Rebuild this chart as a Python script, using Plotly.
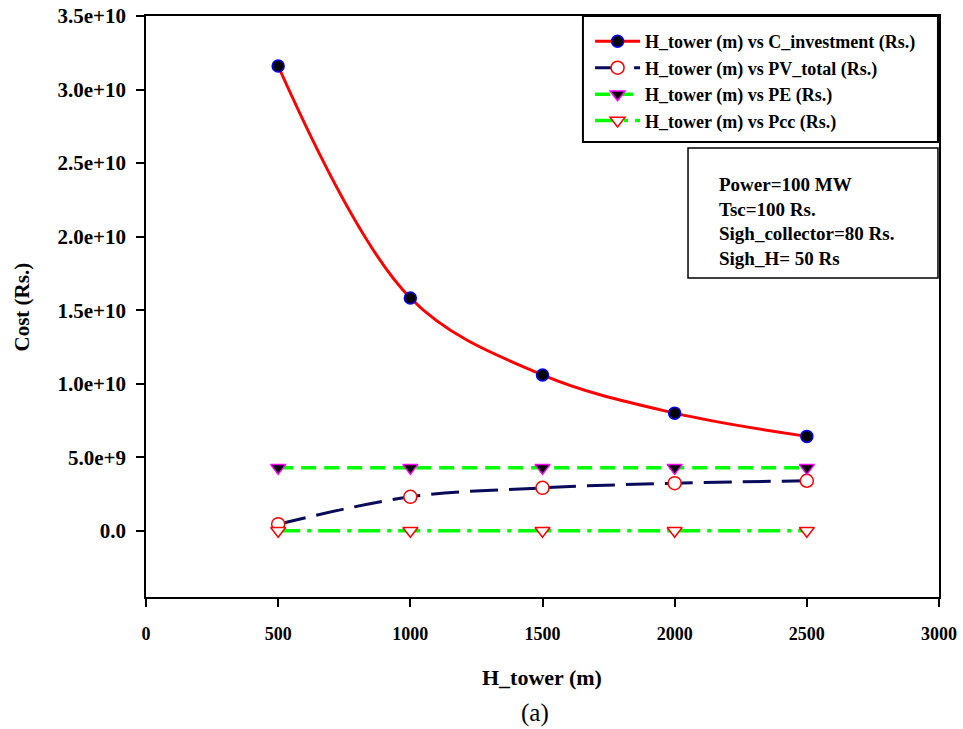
import plotly.graph_objects as go

# ---- data ----
h_tower = [500, 1000, 1500, 2000, 2500]
c_investment = [3.16e10, 1.583e10, 1.06e10, 8.0e9, 6.42e9]
pv_total = [4.5e8, 2.31e9, 2.92e9, 3.24e9, 3.40e9]
pe = [4.28e9, 4.28e9, 4.28e9, 4.28e9, 4.28e9]
pcc = [0.0, 0.0, 0.0, 0.0, 0.0]

x_tick_vals = [0, 500, 1000, 1500, 2000, 2500, 3000]
x_tick_text = ["0", "500", "1000", "1500", "2000", "2500", "3000"]
y_tick_vals = [0, 5e9, 1e10, 1.5e10, 2e10, 2.5e10, 3e10, 3.5e10]
y_tick_text = ["0.0", "5.0e+9", "1.0e+10", "1.5e+10", "2.0e+10", "2.5e+10", "3.0e+10", "3.5e+10"]

names = [
    "H_tower (m) vs C_investment (Rs.)",
    "H_tower (m) vs PV_total (Rs.)",
    "H_tower (m) vs PE (Rs.)",
    "H_tower (m) vs Pcc (Rs.)",
]
info_lines = ["Power=100 MW", "Tsc=100 Rs.", "Sigh_collector=80 Rs.", "Sigh_H= 50 Rs"]

FONT = "Liberation Serif"

fig = go.Figure()
fig.add_trace(go.Scatter(
    x=h_tower, y=c_investment, name=names[0], mode="lines+markers",
    line=dict(color="#ff0000", width=3, shape="spline", smoothing=1.0),
    marker=dict(symbol="circle", size=12, color="black", line=dict(color="#0000ff", width=1.5)),
))
fig.add_trace(go.Scatter(
    x=h_tower, y=pv_total, name=names[1], mode="lines+markers",
    line=dict(color="#0a0a5a", width=3, shape="spline", smoothing=1.0, dash="28px,11px"),
    marker=dict(symbol="circle", size=13, color="white", line=dict(color="#ff0000", width=1.5)),
))
fig.add_trace(go.Scatter(
    x=h_tower, y=pe, name=names[2], mode="lines+markers",
    line=dict(color="#00ff00", width=3.5, dash="15px,8px"),
    marker=dict(symbol="triangle-down", size=13, color="black", line=dict(color="#ff00ff", width=1.5)),
))
fig.add_trace(go.Scatter(
    x=h_tower, y=pcc, name=names[3], mode="lines+markers",
    line=dict(color="#00ff00", width=3.5, dash="22px,7px,4px,7px"),
    marker=dict(symbol="triangle-down", size=13, color="white", line=dict(color="#ff0000", width=1.5)),
))

axis_common = dict(
    showline=True, linecolor="black", linewidth=1.5, mirror=True,
    ticks="outside", ticklen=8, tickwidth=1.5, tickcolor="black",
    showgrid=False, zeroline=False, automargin=False,
)
fig.update_xaxes(range=[0, 3000], tickvals=x_tick_vals, ticktext=x_tick_text,
                 tickfont=dict(family=FONT, size=18, color="black", weight="bold"),
                 ticklabelstandoff=12, **axis_common)
fig.update_yaxes(range=[-4.5e9, 3.5e10], tickvals=y_tick_vals, ticktext=y_tick_text,
                 tickfont=dict(family=FONT, size=21, color="black", weight="bold"),
                 ticklabelstandoff=6, **axis_common)

# legend box and info box
fig.add_shape(type="rect", xref="paper", yref="paper", x0=0.551, x1=0.9987, y0=0.7831, y1=1.0,
              line=dict(color="black", width=2), fillcolor="white", layer="above")
fig.add_shape(type="rect", xref="paper", yref="paper", x0=0.6835, x1=0.9987, y0=0.549, y1=0.7728,
              line=dict(color="black", width=1.5), fillcolor="white", layer="above")

fig.add_annotation(xref="paper", yref="paper", x=0.7195, y=0.6468, xanchor="left", yanchor="middle",
                   align="left", showarrow=False, text="<br>".join(info_lines),
                   font=dict(family=FONT, size=19, color="black", weight="bold"))

# axis titles
fig.add_annotation(xref="paper", yref="paper", x=0.4994, y=-0.1377, xanchor="center", yanchor="middle",
                   showarrow=False, text="H_tower (m)",
                   font=dict(family=FONT, size=22, color="black", weight="bold"))
fig.add_annotation(xref="paper", yref="paper", x=-0.1564, y=0.5, xanchor="center", yanchor="middle",
                   showarrow=False, text="Cost (Rs.)", textangle=-90,
                   font=dict(family=FONT, size=21, color="black", weight="bold"))
fig.add_annotation(xref="paper", yref="paper", x=0.4905, y=-0.1997, xanchor="center", yanchor="middle",
                   showarrow=False, text="(a)",
                   font=dict(family=FONT, size=25, color="black"))

fig.update_layout(
    width=963, height=729,
    margin=dict(l=146, r=24, t=16, b=132),
    plot_bgcolor="white", paper_bgcolor="white",
    font=dict(family=FONT, color="black"),
    showlegend=True,
    legend=dict(x=0.56, y=0.9877, xanchor="left", yanchor="top",
                bgcolor="rgba(0,0,0,0)", borderwidth=0, itemwidth=45,
                font=dict(family=FONT, size=18, color="black", weight="bold"),
                tracegroupgap=0),
)

fig.write_html("out.html")
